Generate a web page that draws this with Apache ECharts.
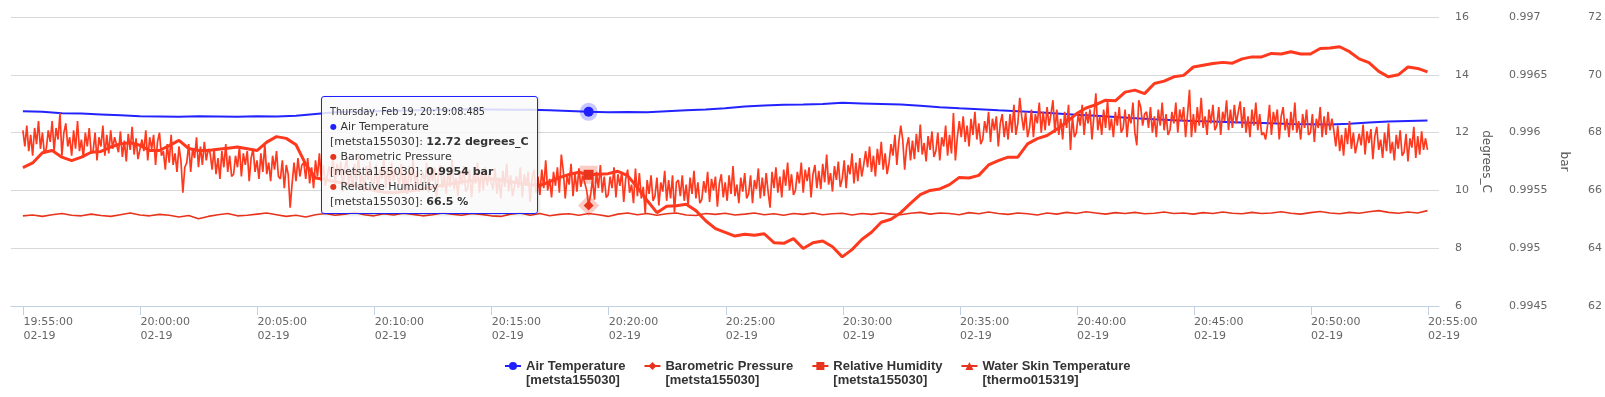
<!DOCTYPE html>
<html>
<head>
<meta charset="utf-8">
<title>metsta155030 / thermo015319</title>
<script src="https://cdn.jsdelivr.net/npm/echarts@6/dist/echarts.min.js"></script>
<style>
    html, body { margin: 0; padding: 0; background: #fff; }
    #chart { width: 1605px; height: 397px; }
</style>
</head>
<body>
<div id="chart"></div>
<script>
; (function () {

    /* =================== data ======================== */

    var seriesNames = ['Air Temperature', 'Barometric Pressure', 'Relative Humidity', 'Water Skin Temperature'];
    var stations = ['metsta155030', 'metsta155030', 'metsta155030', 'thermo015319'];
    var units = ['degrees_C', 'bar', '%', 'degrees_C'];
    var valueDecimals = [2, 4, 1, 2];

    // x axis ticks, all on 02-19
    var tickDate = '02-19';
    var tickLabels = ['19:55:00', '20:00:00', '20:05:00', '20:10:00', '20:15:00', '20:20:00', '20:25:00',
        '20:30:00', '20:35:00', '20:40:00', '20:45:00', '20:50:00', '20:55:00'];
    var axisStart = '2015-02-19T19:54:28Z';
    var axisEnd = '2015-02-19T20:55:28Z';

    // samples start at 19:54:58.485, one every N seconds
    var firstSample = '2015-02-19T19:54:58.485Z';
    var airTempStep = 50, pressureStep = 5, humidityStep = 25, waterTempStep = 25;

    // hovered point shown in the tooltip
    var tipTime = '2015-02-19T20:19:08.485Z';

    // Air Temperature, degrees_C
    var airTemp = [
        12.74, 12.72, 12.67, 12.66, 12.63, 12.60, 12.57, 12.56, 12.55, 12.57,
        12.56, 12.55, 12.57, 12.56, 12.58, 12.64, 12.70, 12.72, 12.74, 12.76,
        12.77, 12.78, 12.80, 12.81, 12.80, 12.79, 12.79, 12.77, 12.75, 12.72,
        12.70, 12.71, 12.70, 12.74, 12.77, 12.80, 12.84, 12.90, 12.94, 12.96,
        12.97, 12.99, 13.03, 13.01, 12.99, 12.97, 12.93, 12.88, 12.84, 12.81,
        12.77, 12.74, 12.70, 12.66, 12.62, 12.58, 12.54, 12.50, 12.46, 12.43,
        12.40, 12.38, 12.36, 12.34, 12.32, 12.30, 12.29, 12.28, 12.31, 12.35,
        12.38, 12.40, 12.42
    ];

    // Barometric Pressure, bar (one row per minute)
    var pressure = [
        0.99602, 0.99588, 0.99606, 0.99584, 0.99598, 0.99580, 0.99604, 0.99590, 0.99610, 0.99586, 0.99600, 0.99582,
        0.99586, 0.99602, 0.99592, 0.99610, 0.99584, 0.99604, 0.99594, 0.99617, 0.99580, 0.99600, 0.99608, 0.99588,
        0.99596, 0.99580, 0.99602, 0.99586, 0.99610, 0.99584, 0.99594, 0.99578, 0.99600, 0.99588, 0.99604, 0.99582,
        0.99584, 0.99600, 0.99576, 0.99596, 0.99588, 0.99606, 0.99580, 0.99598, 0.99582, 0.99602, 0.99586, 0.99596,
        0.99597, 0.99583, 0.99601, 0.99579, 0.99593, 0.99575, 0.99599, 0.99585, 0.99605, 0.99581, 0.99595, 0.99577,
        0.99578, 0.99594, 0.99584, 0.99602, 0.99576, 0.99596, 0.99586, 0.99598, 0.99572, 0.99592, 0.99600, 0.99580,
        0.99584, 0.99568, 0.99590, 0.99574, 0.99598, 0.99572, 0.99582, 0.99566, 0.99588, 0.99576, 0.99548, 0.99570,
        0.99574, 0.99590, 0.99566, 0.99586, 0.99578, 0.99596, 0.99570, 0.99588, 0.99572, 0.99592, 0.99576, 0.99586,
        0.99582, 0.99568, 0.99586, 0.99564, 0.99578, 0.99560, 0.99584, 0.99570, 0.99590, 0.99566, 0.99580, 0.99562,
        0.99564, 0.99580, 0.99570, 0.99588, 0.99562, 0.99582, 0.99572, 0.99584, 0.99558, 0.99578, 0.99586, 0.99566,
        0.99576, 0.99560, 0.99582, 0.99566, 0.99590, 0.99564, 0.99574, 0.99558, 0.99580, 0.99568, 0.99584, 0.99562,
        0.99560, 0.99576, 0.99552, 0.99572, 0.99564, 0.99535, 0.99556, 0.99574, 0.99558, 0.99578, 0.99562, 0.99572,
        0.99574, 0.99560, 0.99578, 0.99556, 0.99570, 0.99552, 0.99576, 0.99562, 0.99582, 0.99558, 0.99572, 0.99554,
        0.99555, 0.99571, 0.99561, 0.99579, 0.99553, 0.99573, 0.99563, 0.99575, 0.99549, 0.99569, 0.99577, 0.99557,
        0.99567, 0.99551, 0.99573, 0.99557, 0.99581, 0.99555, 0.99565, 0.99549, 0.99571, 0.99559, 0.99575, 0.99553,
        0.99556, 0.99572, 0.99548, 0.99568, 0.99560, 0.99578, 0.99552, 0.99570, 0.99554, 0.99574, 0.99558, 0.99568,
        0.99569, 0.99555, 0.99573, 0.99551, 0.99565, 0.99547, 0.99571, 0.99557, 0.99577, 0.99553, 0.99567, 0.99549,
        0.99550, 0.99566, 0.99556, 0.99574, 0.99548, 0.99568, 0.99558, 0.99570, 0.99544, 0.99564, 0.99572, 0.99552,
        0.99563, 0.99547, 0.99569, 0.99553, 0.99577, 0.99551, 0.99561, 0.99545, 0.99567, 0.99555, 0.99571, 0.99549,
        0.99552, 0.99568, 0.99544, 0.99564, 0.99556, 0.99574, 0.99548, 0.99566, 0.99550, 0.99570, 0.99554, 0.99564,
        0.99565, 0.99551, 0.99569, 0.99547, 0.99561, 0.99543, 0.99567, 0.99553, 0.99573, 0.99549, 0.99563, 0.99545,
        0.99546, 0.99562, 0.99552, 0.99570, 0.99544, 0.99564, 0.99554, 0.99566, 0.99540, 0.99560, 0.99568, 0.99548,
        0.99562, 0.99546, 0.99568, 0.99552, 0.99576, 0.99550, 0.99560, 0.99544, 0.99566, 0.99554, 0.99570, 0.99548,
        0.99581, 0.99567, 0.99543, 0.99563, 0.99555, 0.99573, 0.99545, 0.99565, 0.99549, 0.99569, 0.99553, 0.99563,
        0.99564, 0.99550, 0.99537, 0.99546, 0.99560, 0.99542, 0.99566, 0.99552, 0.99572, 0.99548, 0.99562, 0.99544,
        0.99546, 0.99562, 0.99552, 0.99570, 0.99544, 0.99564, 0.99554, 0.99566, 0.99540, 0.99560, 0.99568, 0.99548,
        0.99555, 0.99539, 0.99569, 0.99545, 0.99565, 0.99543, 0.99553, 0.99530, 0.99559, 0.99547, 0.99563, 0.99541,
        0.99545, 0.99561, 0.99537, 0.99557, 0.99549, 0.99567, 0.99541, 0.99559, 0.99543, 0.99563, 0.99531, 0.99557,
        0.99559, 0.99545, 0.99563, 0.99541, 0.99555, 0.99537, 0.99561, 0.99547, 0.99567, 0.99543, 0.99557, 0.99539,
        0.99542, 0.99558, 0.99548, 0.99566, 0.99540, 0.99560, 0.99550, 0.99562, 0.99536, 0.99556, 0.99564, 0.99544,
        0.99557, 0.99541, 0.99563, 0.99547, 0.99571, 0.99545, 0.99555, 0.99539, 0.99561, 0.99549, 0.99565, 0.99543,
        0.99547, 0.99563, 0.99539, 0.99559, 0.99551, 0.99569, 0.99543, 0.99561, 0.99545, 0.99565, 0.99549, 0.99535,
        0.99566, 0.99552, 0.99570, 0.99548, 0.99562, 0.99544, 0.99568, 0.99554, 0.99574, 0.99550, 0.99564, 0.99546,
        0.99550, 0.99566, 0.99556, 0.99574, 0.99548, 0.99568, 0.99558, 0.99570, 0.99544, 0.99564, 0.99572, 0.99552,
        0.99567, 0.99551, 0.99573, 0.99557, 0.99581, 0.99555, 0.99565, 0.99549, 0.99571, 0.99559, 0.99575, 0.99553,
        0.99560, 0.99576, 0.99552, 0.99572, 0.99564, 0.99582, 0.99556, 0.99574, 0.99558, 0.99578, 0.99562, 0.99572,
        0.99584, 0.99570, 0.99588, 0.99566, 0.99580, 0.99562, 0.99586, 0.99572, 0.99592, 0.99568, 0.99582, 0.99564,
        0.99574, 0.99590, 0.99580, 0.99598, 0.99572, 0.99592, 0.99606, 0.99594, 0.99568, 0.99588, 0.99596, 0.99576,
        0.99593, 0.99577, 0.99599, 0.99583, 0.99607, 0.99581, 0.99591, 0.99575, 0.99597, 0.99585, 0.99601, 0.99579,
        0.99584, 0.99600, 0.99576, 0.99596, 0.99588, 0.99606, 0.99580, 0.99598, 0.99582, 0.99617, 0.99576, 0.99596,
        0.99610, 0.99596, 0.99614, 0.99592, 0.99606, 0.99588, 0.99612, 0.99598, 0.99618, 0.99594, 0.99608, 0.99590,
        0.99594, 0.99610, 0.99600, 0.99618, 0.99592, 0.99612, 0.99602, 0.99614, 0.99588, 0.99608, 0.99616, 0.99596,
        0.99610, 0.99594, 0.99616, 0.99600, 0.99624, 0.99598, 0.99608, 0.99630, 0.99614, 0.99602, 0.99618, 0.99596,
        0.99604, 0.99620, 0.99596, 0.99616, 0.99608, 0.99626, 0.99600, 0.99618, 0.99602, 0.99622, 0.99606, 0.99616,
        0.99628, 0.99600, 0.99620, 0.99598, 0.99612, 0.99594, 0.99618, 0.99604, 0.99624, 0.99585, 0.99614, 0.99596,
        0.99600, 0.99616, 0.99606, 0.99624, 0.99598, 0.99618, 0.99608, 0.99620, 0.99594, 0.99614, 0.99634, 0.99602,
        0.99614, 0.99598, 0.99620, 0.99604, 0.99628, 0.99602, 0.99612, 0.99596, 0.99618, 0.99606, 0.99622, 0.99600,
        0.99604, 0.99620, 0.99596, 0.99616, 0.99608, 0.99626, 0.99600, 0.99589, 0.99628, 0.99622, 0.99606, 0.99616,
        0.99618, 0.99604, 0.99622, 0.99600, 0.99614, 0.99596, 0.99620, 0.99606, 0.99626, 0.99602, 0.99616, 0.99598,
        0.99602, 0.99618, 0.99608, 0.99626, 0.99600, 0.99620, 0.99610, 0.99622, 0.99596, 0.99616, 0.99637, 0.99596,
        0.99616, 0.99600, 0.99622, 0.99606, 0.99630, 0.99604, 0.99614, 0.99598, 0.99620, 0.99608, 0.99624, 0.99602,
        0.99606, 0.99622, 0.99598, 0.99618, 0.99610, 0.99628, 0.99602, 0.99620, 0.99604, 0.99624, 0.99608, 0.99618,
        0.99627, 0.99604, 0.99622, 0.99600, 0.99614, 0.99596, 0.99620, 0.99606, 0.99626, 0.99602, 0.99616, 0.99598,
        0.99600, 0.99594, 0.99606, 0.99624, 0.99598, 0.99618, 0.99608, 0.99620, 0.99594, 0.99614, 0.99622, 0.99602,
        0.99612, 0.99596, 0.99618, 0.99602, 0.99626, 0.99600, 0.99610, 0.99594, 0.99616, 0.99604, 0.99620, 0.99598,
        0.99600, 0.99616, 0.99592, 0.99612, 0.99604, 0.99622, 0.99596, 0.99614, 0.99598, 0.99618, 0.99602, 0.99612,
        0.99602, 0.99588, 0.99606, 0.99584, 0.99598, 0.99580, 0.99604, 0.99590, 0.99610, 0.99586, 0.99600, 0.99582,
        0.99583, 0.99599, 0.99589, 0.99607, 0.99581, 0.99601, 0.99591, 0.99603, 0.99577, 0.99597, 0.99605, 0.99585,
        0.99594, 0.99578, 0.99600, 0.99584, 0.99608, 0.99582, 0.99592, 0.99576, 0.99598, 0.99586, 0.99602, 0.99580,
        0.99583, 0.99599, 0.99575, 0.99595, 0.99587, 0.99605, 0.99578, 0.99597, 0.99581, 0.99601, 0.99585, 0.99595,
        0.99585
    ];

    // Relative Humidity, %
    var humidity = [
        66.79, 66.95, 67.30, 67.38, 67.15, 67.03, 67.15, 67.32, 67.35, 67.50,
        67.61, 67.65, 67.56, 67.38, 67.38, 67.55, 67.73, 67.45, 67.38, 67.38,
        67.42, 67.46, 67.50, 67.44, 67.38, 67.67, 67.86, 67.80, 67.58, 66.90,
        66.43, 66.38, 66.30, 66.25, 66.18, 66.08, 66.00, 65.94, 65.92, 65.96,
        66.00, 66.06, 66.10, 66.18, 66.24, 66.30, 66.34, 66.38, 66.40, 66.36,
        66.30, 66.25, 66.20, 66.17, 66.30, 66.44, 66.55, 66.63, 66.54, 66.56,
        66.58, 66.66, 66.51, 66.10, 65.65, 65.23, 65.45, 65.47, 65.52, 65.30,
        64.95, 64.68, 64.55, 64.42, 64.48, 64.45, 64.50, 64.19, 64.17, 64.33,
        63.99, 64.19, 64.25, 64.05, 63.70, 63.95, 64.30, 64.55, 64.90, 65.00,
        65.23, 65.55, 65.85, 66.00, 66.05, 66.20, 66.45, 66.43, 66.52, 66.88,
        67.03, 67.15, 67.15, 67.61, 67.79, 67.90, 68.12, 68.36, 68.65, 68.85,
        68.97, 69.12, 69.10, 69.40, 69.47, 69.35, 69.70, 69.78, 69.93, 69.98,
        70.27, 70.33, 70.39, 70.43, 70.40, 70.55, 70.62, 70.62, 70.74, 70.72,
        70.80, 70.72, 70.72, 70.91, 70.93, 70.97, 70.80, 70.55, 70.42, 70.12,
        69.93, 70.00, 70.27, 70.22, 70.10
    ];

    // Water Skin Temperature, degrees_C
    var waterTemp = [
        9.12, 9.15, 9.10, 9.16, 9.20, 9.14, 9.12, 9.18, 9.13, 9.10,
        9.16, 9.22, 9.15, 9.12, 9.17, 9.14, 9.08, 9.13, 9.02, 9.10,
        9.16, 9.20, 9.12, 9.14, 9.18, 9.22, 9.16, 9.10, 9.14, 9.08,
        9.16, 9.20, 9.14, 9.18, 9.24, 9.16, 9.12, 9.19, 9.15, 9.21,
        9.17, 9.12, 9.16, 9.22, 9.18, 9.14, 9.20, 9.17, 9.12, 9.10,
        9.18, 9.22, 9.14, 9.20, 9.12, 9.17, 9.19, 9.14, 9.20, 9.16,
        9.10, 9.18, 9.22, 9.16, 9.20, 9.14, 9.19, 9.22, 9.15, 9.13,
        9.20, 9.17, 9.21, 9.15, 9.18, 9.22, 9.16, 9.19, 9.14, 9.20,
        9.17, 9.22, 9.16, 9.19, 9.21, 9.15, 9.20, 9.17, 9.22, 9.18,
        9.16, 9.21, 9.24, 9.18, 9.22, 9.20, 9.16, 9.23, 9.19, 9.25,
        9.20, 9.17, 9.22, 9.19, 9.15, 9.22, 9.18, 9.24, 9.20, 9.26,
        9.22, 9.18, 9.23, 9.20, 9.24, 9.19, 9.21, 9.25, 9.20, 9.22,
        9.18, 9.23, 9.20, 9.25, 9.21, 9.19, 9.24, 9.20, 9.22, 9.26,
        9.21, 9.18, 9.23, 9.27, 9.22, 9.19, 9.24, 9.21, 9.26, 9.30,
        9.24, 9.21, 9.25, 9.22, 9.30
    ];

    /* =================== chart ======================== */

    var blue = '#2020ff';
    var red = '#e8341c';
    var axisFont = 'DejaVu Sans';

    var t0 = Date.parse(firstSample);
    function timed(values, step) {
        return values.map(function (v, i) { return [t0 + i * step * 1000, v]; });
    }
    function pad(n, w) {
        n = String(n);
        while (n.length < (w || 2)) n = '0' + n;
        return n;
    }
    var tickValues = tickLabels.map(function (s) { return Date.parse('2015-02-19T' + s + 'Z'); });
    var days = ['Sunday', 'Monday', 'Tuesday', 'Wednesday', 'Thursday', 'Friday', 'Saturday'];
    var months = ['Jan', 'Feb', 'Mar', 'Apr', 'May', 'Jun', 'Jul', 'Aug', 'Sep', 'Oct', 'Nov', 'Dec'];

    function legendName(k) {
        return seriesNames[k] + '\n[' + stations[k] + ']';
    }

    function lineSeries(k, data, yAxisIndex, color, symbol, width, halo) {
        return {
            name: legendName(k),
            type: 'line',
            yAxisIndex: yAxisIndex,
            data: data,
            showSymbol: false,
            symbol: symbol,
            symbolSize: 10,
            lineStyle: { width: width, color: color },
            itemStyle: { color: color },
            emphasis: {
                scale: false,
                lineStyle: { width: width },
                itemStyle: { borderColor: halo, borderWidth: 8 }
            }
        };
    }

    var myChart = echarts.init(document.getElementById('chart'));

    var series = [
        lineSeries(0, timed(airTemp, airTempStep), 0, blue, 'circle', 2, 'rgba(32,32,255,0.25)'),
        lineSeries(1, timed(pressure, pressureStep), 1, red, 'diamond', 1.7, 'rgba(232,52,28,0.25)'),
        lineSeries(2, timed(humidity, humidityStep), 2, red, 'rect', 3, 'rgba(232,52,28,0.25)'),
        lineSeries(3, timed(waterTemp, waterTempStep), 0, red, 'triangle', 1.6, 'rgba(232,52,28,0.25)')
    ];
    series[3].tooltip = { show: false };

    var yLabel = { color: '#666', fontSize: 11, fontFamily: axisFont, padding: [4, 0, 0, 0] };

    var option = {
        animation: false,
        grid: {
            left: 11,
            right: 166,
            top: 17,
            bottom: 91
        },
        legend: {
            left: 504,
            top: 345,
            padding: 0,
            itemGap: 18,
            itemWidth: 16,
            itemHeight: 10,
            lineStyle: { width: 2 },
            // empty first line keeps the icon level with the series name
            formatter: function (name) { return '\n' + name; },
            textStyle: {
                fontFamily: 'Liberation Sans',
                fontWeight: 'bold',
                fontSize: 13,
                color: '#333',
                lineHeight: 14
            },
            data: [0, 1, 2, 3].map(legendName)
        },
        tooltip: {
            trigger: 'axis',
            triggerOn: 'none',
            alwaysShowContent: true,
            transitionDuration: 0,
            axisPointer: { type: 'line', lineStyle: { opacity: 0 }, label: { show: false }, animation: false },
            backgroundColor: 'rgba(249,249,249,0.85)',
            borderColor: blue,
            borderWidth: 1,
            padding: [8, 8, 4, 8],
            textStyle: { fontFamily: axisFont, fontSize: 11, color: '#333' },
            extraCssText: 'border-radius:3px;box-shadow:1px 1px 3px rgba(0,0,0,0.18);',
            position: function (point, params, dom, rect, size) {
                return [point[0] - size.contentSize[0] - 51, point[1] - 16];
            },
            formatter: function (params) {
                var d = new Date(params[0].axisValue);
                var head = days[d.getUTCDay()] + ', ' + months[d.getUTCMonth()] + ' ' + d.getUTCDate() + ', ' +
                    pad(d.getUTCHours()) + ':' + pad(d.getUTCMinutes()) + ':' + pad(d.getUTCSeconds()) + '.' +
                    pad(d.getUTCMilliseconds(), 3);
                var html = '<div style="font-size:9.7px;line-height:14px">' + head + '</div>';
                params.forEach(function (p) {
                    var k = p.seriesIndex;
                    html += '<div style="line-height:15px"><span style="color:' + p.color +
                        ';font-size:8px;vertical-align:1px">\u25CF</span> ' + seriesNames[k] + '</div>' +
                        '<div style="line-height:15px">[' + stations[k] + ']: <b>' +
                        p.value[1].toFixed(valueDecimals[k]) + ' ' + units[k] + '</b></div>';
                });
                return html;
            }
        },
        xAxis: {
            type: 'value',
            min: Date.parse(axisStart),
            max: Date.parse(axisEnd),
            axisLine: { lineStyle: { color: '#C0D0E0' } },
            axisTick: { customValues: tickValues, length: 9, lineStyle: { color: '#C0D0E0' } },
            axisLabel: {
                customValues: tickValues,
                align: 'left',
                margin: 9,
                color: '#666',
                fontSize: 11,
                fontFamily: axisFont,
                lineHeight: 14,
                hideOverlap: false,
                formatter: function (value) {
                    var i = tickValues.indexOf(value);
                    return (i >= 0 ? tickLabels[i] : '') + '\n' + tickDate;
                }
            },
            splitLine: { show: false }
        },
        yAxis: [
            {
                type: 'value',
                position: 'right',
                min: 6,
                max: 16,
                interval: 2,
                name: 'degrees_C',
                nameLocation: 'middle',
                nameRotate: -90,
                nameGap: 37,
                nameTextStyle: { color: '#555', fontSize: 12, fontFamily: axisFont },
                axisLine: { show: false },
                axisTick: { show: false },
                axisLabel: echarts.util.extend({ margin: 16 }, yLabel),
                splitLine: { lineStyle: { color: '#D8D8D8' } }
            },
            {
                type: 'value',
                position: 'right',
                offset: 70,
                min: 0.9945,
                max: 0.997,
                interval: 0.0005,
                name: 'bar',
                nameLocation: 'middle',
                nameRotate: -90,
                nameGap: 45,
                nameTextStyle: { color: '#555', fontSize: 12, fontFamily: axisFont },
                axisLine: { show: false },
                axisTick: { show: false },
                axisLabel: echarts.util.extend({
                    margin: 0,
                    formatter: function (v) { return String(+v.toFixed(4)); }
                }, yLabel),
                splitLine: { show: false }
            },
            {
                type: 'value',
                position: 'right',
                offset: 149,
                min: 62,
                max: 72,
                interval: 2,
                axisLine: { show: false },
                axisTick: { show: false },
                axisLabel: echarts.util.extend({ margin: 0 }, yLabel),
                splitLine: { show: false }
            }
        ],
        series: series
    };

    myChart.setOption(option);

    // show the hover state at the tooltip time
    var tipValue = Date.parse(tipTime);
    var tipIndex = series[0].data.findIndex(function (d) { return d[0] === tipValue; });
    myChart.dispatchAction({ type: 'showTip', seriesIndex: 0, dataIndex: tipIndex });
}());
</script>
</body>
</html>
